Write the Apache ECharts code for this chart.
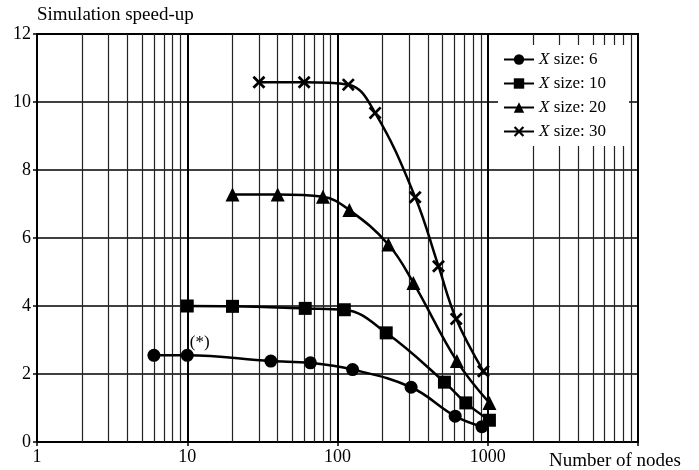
<!DOCTYPE html>
<html>
<head>
<meta charset="utf-8">
<script src="https://cdn.jsdelivr.net/npm/echarts@6/dist/echarts.min.js"></script>
<style>
html, body {margin:0; padding:0; background:#fff;}
#chart {width:699px; height:470px;}
</style>
</head>
<body>
<div id="chart"></div>
<script>
// X size series: number of nodes / speed-up
var nodes6 = [6, 10, 36, 66, 126, 309, 607, 914];
var speed6 = [2.55, 2.55, 2.38, 2.33, 2.13, 1.61, 0.76, 0.45];
var nodes10 = [10, 20, 61, 111, 211, 515, 715, 1026];
var speed10 = [4.0, 3.99, 3.93, 3.89, 3.21, 1.76, 1.15, 0.64];
var nodes20 = [20, 40, 80, 120, 218, 320, 623, 1026];
var speed20 = [7.28, 7.28, 7.21, 6.82, 5.81, 4.68, 2.38, 1.15];
var nodes30 = [30, 60, 118, 178, 329, 470, 617, 936];
var speed30 = [10.58, 10.58, 10.51, 9.68, 7.2, 5.17, 3.62, 2.08];

var seriesNames = ['6', '10', '20', '30'];
var minorTicks = [2, 3, 4, 5, 6, 7, 8, 9, 20, 30, 40, 50, 60, 70, 80, 90,
    200, 300, 400, 500, 600, 700, 800, 900, 2000, 3000, 4000, 5000, 6000, 7000, 8000, 9000];

var FONT = "'Liberation Serif', 'Times New Roman', serif";
var crossPath = 'path://M0,1.5L1.5,0L5,3.5L8.5,0L10,1.5L6.5,5L10,8.5L8.5,10L5,6.5L1.5,10L0,8.5L3.5,5Z';

function pairs(xs, ys) {
    var out = [];
    for (var i = 0; i < xs.length; i++) { out.push([xs[i], ys[i]]); }
    return out;
}

function mkSeries(name, xs, ys, symbol, size) {
    return {
        name: name, type: 'line', data: pairs(xs, ys), smooth: 0.4,
        symbol: symbol, symbolSize: size, showAllSymbol: true,
        lineStyle: {color: '#000', width: 2.5}, itemStyle: {color: '#000'},
        z: 3
    };
}

var s6 = mkSeries(seriesNames[0], nodes6, speed6, 'circle', 13);
// the (*) mark sits on the 10-node point
s6.data[1] = {value: s6.data[1], label: {show: true, formatter: '(*)', position: [9, -15], align: 'left', verticalAlign: 'top', fontFamily: FONT, fontSize: 17, color: '#000'}};
var s10 = mkSeries(seriesNames[1], nodes10, speed10, 'rect', 13);
var s20 = mkSeries(seriesNames[2], nodes20, speed20, 'triangle', 14);
var s30 = mkSeries(seriesNames[3], nodes30, speed30, crossPath, 13);

var gridLines = {
    name: 'minor', type: 'line', data: [], silent: true,
    markLine: {
        z: 1, silent: true, symbol: ['none', 'none'], animation: false,
        label: {show: false}, emphasis: {disabled: true},
        lineStyle: {type: 'solid', color: '#222', width: 1.2},
        data: minorTicks.map(function (v) { return {xAxis: v}; })
    }
};

var chart = echarts.init(document.getElementById('chart'));
var option = {
    animation: false,
    grid: {left: 37, right: 61, top: 34, bottom: 28, show: true, borderColor: '#000', borderWidth: 2, backgroundColor: 'transparent'},
    xAxis: {
        type: 'log', logBase: 10, min: 1, max: 10000,
        axisLine: {lineStyle: {color: '#000', width: 2}},
        axisTick: {show: true, length: 4, lineStyle: {color: '#000', width: 1.5}},
        axisLabel: {color: '#000', fontFamily: FONT, fontSize: 18, margin: 6,
            formatter: function (v) { return v >= 10000 ? '' : String(v); }},
        splitLine: {show: true, lineStyle: {color: '#000', width: 2}}
    },
    yAxis: {
        type: 'value', min: 0, max: 12, interval: 2,
        name: 'Simulation speed-up', nameLocation: 'end', nameGap: 9,
        nameTextStyle: {color: '#000', fontFamily: FONT, fontSize: 19, align: 'left'},
        axisLine: {show: true, lineStyle: {color: '#000', width: 2}},
        axisTick: {show: true, length: 4, lineStyle: {color: '#000', width: 1.5}},
        axisLabel: {color: '#000', fontFamily: FONT, fontSize: 18, margin: 6},
        splitLine: {show: true, lineStyle: {color: '#000', width: 1.5}}
    },
    legend: {
        orient: 'vertical', left: 498, top: 45, padding: [6, 23, 6, 5],
        backgroundColor: '#fff', itemWidth: 30, itemHeight: 13, itemGap: 7,
        data: seriesNames,
        formatter: function (n) { return '{i|X} size: ' + n; },
        textStyle: {color: '#000', fontFamily: FONT, fontSize: 17, lineHeight: 17,
            rich: {i: {fontStyle: 'italic', fontFamily: FONT, fontSize: 17, lineHeight: 17, color: '#000'}}}
    },
    graphic: [{
        type: 'text', left: 549, top: 452,
        style: {text: 'Number of nodes', font: "19px 'Liberation Serif', 'Times New Roman', serif", fill: '#000'}
    }],
    series: [gridLines, s6, s10, s20, s30]
};
chart.setOption(option);
</script>
</body>
</html>
